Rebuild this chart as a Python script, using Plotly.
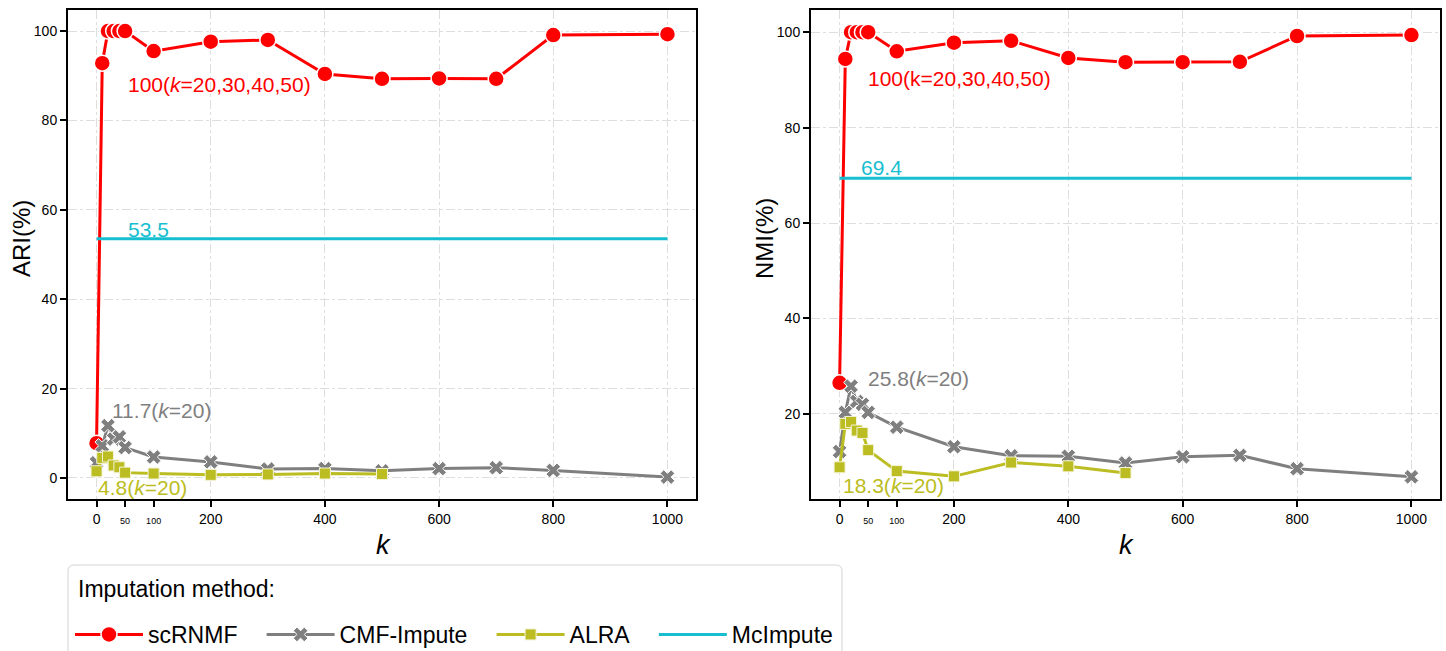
import plotly.graph_objects as go

# k values for each method
k_scrnmf = [0, 10, 20, 30, 40, 50, 100, 200, 300, 400, 500, 600, 700, 800, 1000]
k_cmf = [0, 10, 20, 30, 40, 50, 100, 200, 300, 400, 500, 600, 700, 800, 1000]
k_alra = [0, 10, 20, 30, 40, 50, 100, 200, 300, 400, 500]
k_mcimpute = [0, 1000]

# ARI (%)
ari_scrnmf = [7.8, 92.8, 100, 100, 100, 100, 95.5, 97.6, 98.0, 90.4, 89.3, 89.4, 89.3, 99.1, 99.3]
ari_cmf = [3.4, 7.2, 11.7, 8.7, 9.2, 6.8, 4.7, 3.6, 2.0, 2.1, 1.6, 2.1, 2.3, 1.7, 0.2]
ari_alra = [1.5, 4.5, 4.8, 2.8, 2.4, 1.2, 1.0, 0.7, 0.8, 1.0, 0.9]
ari_mcimpute = [53.5, 53.5]

# NMI (%)
nmi_scrnmf = [26.5, 94.4, 100, 100, 100, 100, 96.0, 97.8, 98.2, 94.6, 93.7, 93.7, 93.8, 99.2, 99.4]
nmi_cmf = [12.1, 20.3, 25.8, 22.6, 22.0, 20.3, 17.2, 13.1, 11.2, 11.1, 9.7, 11.0, 11.3, 8.5, 6.8]
nmi_alra = [8.8, 17.9, 18.3, 16.5, 16.0, 12.4, 8.0, 6.9, 9.8, 9.0, 7.6]
nmi_mcimpute = [69.4, 69.4]

method_names = ["scRNMF", "CMF-Impute", "ALRA", "McImpute"]

x_tickvals = [0, 50, 100, 200, 400, 600, 800, 1000]
x_ticktext = ["0", "<span style='font-size:9px'>50</span>",
              "<span style='font-size:9px'>100</span>",
              "200", "400", "600", "800", "1000"]
y_tickvals = [0, 20, 40, 60, 80, 100]

RED = "#ff0000"
GRAY = "#7f7f7f"
OLIVE = "#bcbd22"
CYAN = "#17becf"
FONT = "Liberation Sans, Arial, sans-serif"
W, H = 1446, 651
PAD = "\u00a0\u00a0\u00a0"

fig = go.Figure()


def add_panel(xa, ya, scr, cmf, alra, mci, show):
    fig.add_trace(go.Scatter(
        x=k_scrnmf, y=scr, mode="lines+markers", name=method_names[0] + PAD,
        line=dict(color=RED, width=3),
        marker=dict(symbol="circle", size=16, color=RED,
                    line=dict(color="white", width=1.5)),
        xaxis=xa, yaxis=ya, showlegend=show, legendgroup="a"))
    fig.add_trace(go.Scatter(
        x=k_cmf, y=cmf, mode="lines+markers", name=method_names[1] + PAD,
        line=dict(color=GRAY, width=3),
        marker=dict(symbol="x", size=13, color=GRAY,
                    line=dict(color="white", width=1)),
        xaxis=xa, yaxis=ya, showlegend=show, legendgroup="b"))
    fig.add_trace(go.Scatter(
        x=k_alra, y=alra, mode="lines+markers", name=method_names[2] + PAD,
        line=dict(color=OLIVE, width=3),
        marker=dict(symbol="square", size=11, color=OLIVE,
                    line=dict(color="#f4f4d8", width=1)),
        xaxis=xa, yaxis=ya, showlegend=show, legendgroup="c"))
    fig.add_trace(go.Scatter(
        x=k_mcimpute, y=mci, mode="lines", name=method_names[3],
        line=dict(color=CYAN, width=3),
        xaxis=xa, yaxis=ya, showlegend=show, legendgroup="d"))


add_panel("x", "y", ari_scrnmf, ari_cmf, ari_alra, ari_mcimpute, True)
add_panel("x2", "y2", nmi_scrnmf, nmi_cmf, nmi_alra, nmi_mcimpute, False)

grid = dict(gridcolor="#dedede", griddash="dashdot", gridwidth=1)


def xaxis(domain, anchor):
    return dict(
        domain=domain, anchor=anchor, range=[-50, 1050],
        tickmode="array", tickvals=x_tickvals, ticktext=x_ticktext,
        showgrid=False, zeroline=False,
        minor=dict(tickmode="array", tickvals=[0, 200, 400, 600, 800, 1000],
                   showgrid=True, ticks="", **grid),
        showline=True, linecolor="black", linewidth=2, mirror=True,
        ticks="outside", ticklen=6, tickwidth=1.5, tickcolor="black",
        tickfont=dict(size=14, color="black", family=FONT))


def yaxis(domain, anchor, rng):
    return dict(
        domain=domain, anchor=anchor, range=rng,
        tickmode="array", tickvals=y_tickvals,
        showgrid=True, zeroline=False, **grid,
        showline=True, linecolor="black", linewidth=2, mirror=True,
        ticks="outside", ticklen=6, tickwidth=1.5, tickcolor="black",
        tickfont=dict(size=14, color="black", family=FONT))


ydom = [1 - 499 / H, 1 - 10 / H]
fig.update_layout(
    width=W, height=H,
    margin=dict(l=0, r=0, t=0, b=0, autoexpand=False),
    paper_bgcolor="white", plot_bgcolor="white",
    font=dict(family=FONT, color="black"),
    xaxis=xaxis([68 / W, 696 / W], "y"),
    yaxis=yaxis(ydom, "x", [-4.7, 104.7]),
    xaxis2=xaxis([811 / W, 1440 / W], "y2"),
    yaxis2=yaxis(ydom, "x2", [2.15, 104.65]),
    legend=dict(
        orientation="h", x=70 / W, y=1 - 613 / H,
        xanchor="left", yanchor="top",
        font=dict(size=23, color="black", family=FONT),
        bgcolor="rgba(0,0,0,0)", borderwidth=0,
        itemwidth=68),
    showlegend=True,
)


# rounded legend frame
def px(x):
    return x / W


def py(y):
    return 1 - y / H


x0, x1, y0, y1, r = 68, 842, 565, 680, 6
frame = (f"M {px(x0)},{py(y1)} L {px(x0)},{py(y0 + r)} "
         f"Q {px(x0)},{py(y0)} {px(x0 + r)},{py(y0)} "
         f"L {px(x1 - r)},{py(y0)} Q {px(x1)},{py(y0)} {px(x1)},{py(y0 + r)} "
         f"L {px(x1)},{py(y1)}")
fig.add_shape(type="path", path=frame, xref="paper", yref="paper",
              line=dict(color="#d4d4d4", width=1), fillcolor="rgba(0,0,0,0)",
              layer="below")

fig.add_annotation(text="Imputation method:", x=px(76), y=py(589),
                   xref="paper", yref="paper", xanchor="left", yanchor="middle",
                   showarrow=False, font=dict(size=23, color="black", family=FONT))

# axis titles
for text, x, y, ang in [("ARI(%)", 22, 239, -90), ("NMI(%)", 765, 239, -90)]:
    fig.add_annotation(text=text, x=px(x), y=py(y), xref="paper", yref="paper",
                       xanchor="center", yanchor="middle", textangle=ang,
                       showarrow=False, font=dict(size=24, color="black", family=FONT))
for x in [383, 1126]:
    fig.add_annotation(text="<i>k</i>", x=px(x), y=py(545), xref="paper", yref="paper",
                       xanchor="center", yanchor="middle", showarrow=False,
                       font=dict(size=27, color="black", family=FONT))

ann_font = 21


def note(text, x, y, color, xref, yref):
    fig.add_annotation(text=text, x=x, y=y, xref=xref, yref=yref,
                       xanchor="left", yanchor="middle", showarrow=False,
                       font=dict(size=ann_font, color=color, family=FONT))


note("100(<i>k</i>=20,30,40,50)", 51, 88.1, RED, "x", "y")
note(f"{ari_mcimpute[0]}", 51, 55.7, CYAN, "x", "y")
note(f"{ari_cmf[2]}(<i>k</i>=20)", 23, 15.0, GRAY, "x", "y")
note(f"{ari_alra[2]}(<i>k</i>=20)", -1, -2.2, OLIVE, "x", "y")

note("100(k=20,30,40,50)", 47, 90.2, RED, "x2", "y2")
note(f"{nmi_mcimpute[0]}", 34, 71.7, CYAN, "x2", "y2")
note(f"{nmi_cmf[2]}(<i>k</i>=20)", 46, 27.5, GRAY, "x2", "y2")
note(f"{nmi_alra[2]}(<i>k</i>=20)", 3, 5.0, OLIVE, "x2", "y2")

fig.write_html("out.html")
